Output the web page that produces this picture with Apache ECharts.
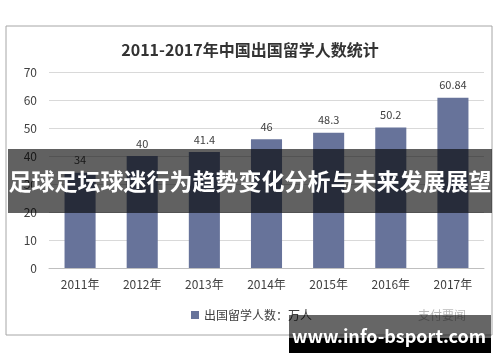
<!DOCTYPE html>
<html><head><meta charset="utf-8">
<script src="https://cdn.jsdelivr.net/npm/echarts@6/dist/echarts.min.js"></script>
<style>html,body{margin:0;padding:0;background:#fff}#c{width:500px;height:362px}</style>
</head><body><div id="c"></div>
<script>
const categories = ['2011年','2012年','2013年','2014年','2015年','2016年','2017年'];
const values = [34, 40, 41.4, 46, 48.3, 50.2, 60.84];
const yTicks = [0, 10, 20, 30, 40, 50, 60, 70];
const seriesName = '出国留学人数：万人';
const titleText = '2011-2017年中国出国留学人数统计';
const bannerText = '足球足坛球迷行为趋势变化分析与未来发展展望';
const siteText = 'www.info-bsport.com';
const markText = '支付要闻';

const F = '"Noto Sans CJK SC", "Noto Sans", sans-serif';
const chart = echarts.init(document.getElementById('c'), null, {renderer:'canvas'});
chart.setOption({
  animation: false,
  backgroundColor: '#fff',
  title: {text: titleText, left: 'center', top: 37,
    textStyle: {fontFamily: F, fontSize: 16, fontWeight: 'bold', color: '#333'}},
  grid: {left: 49, right: 16, top: 72, bottom: 94},
  legend: {bottom: 36, left: 186, itemWidth: 8, itemHeight: 8, itemGap: 4,
    icon: 'rect', textStyle: {fontFamily: F, fontSize: 12, color: '#404040'}},
  xAxis: {type: 'category', data: categories,
    axisLine: {lineStyle: {color: '#bfbfbf'}}, axisTick: {show: false},
    axisLabel: {fontFamily: F, fontSize: 12, color: '#404040', margin: 10}},
  yAxis: {type: 'value', min: yTicks[0], max: yTicks[yTicks.length-1], interval: 10,
    axisLine: {show: false}, axisTick: {show: false},
    splitLine: {lineStyle: {color: '#d9d9d9'}},
    axisLabel: {fontFamily: F, fontSize: 12, color: '#404040', margin: 12}},
  series: [{name: seriesName, type: 'bar', data: values, barWidth: '50%',
    itemStyle: {color: '#67739a'},
    label: {show: true, position: 'top', distance: 7, fontFamily: F, fontSize: 11, color: '#404040'}}],
  graphic: [
    {type: 'rect', shape: {x: 6, y: 26, width: 486, height: 309}, z: -1,
      style: {fill: 'none', stroke: '#a6a6a6', lineWidth: 1}},
    {type: 'text', left: 418, top: 309, z: 50,
      style: {text: markText, font: '12px ' + F, fill: '#bbb'}},
    {type: 'rect', shape: {x: 8, y: 149, width: 484, height: 64}, z: 100,
      style: {fill: 'rgba(0,0,0,0.62)'}},
    {type: 'text', x: 250, y: 181, z: 101,
      style: {text: bannerText, font: 'bold 23px ' + F, fill: '#fff', textAlign: 'center', textVerticalAlign: 'middle'}},
    {type: 'rect', shape: {x: 289, y: 315, width: 202, height: 23}, z: 100,
      style: {fill: 'rgba(0,0,0,0.6)'}},
    {type: 'rect', shape: {x: 289, y: 338, width: 202, height: 15}, z: 100,
      style: {fill: '#000'}},
    {type: 'text', x: 389, y: 336, z: 101,
      style: {text: siteText, font: 'bold 18px ' + F, fill: '#fff', textAlign: 'center', textVerticalAlign: 'middle'}}
  ]
});
</script></body></html>
